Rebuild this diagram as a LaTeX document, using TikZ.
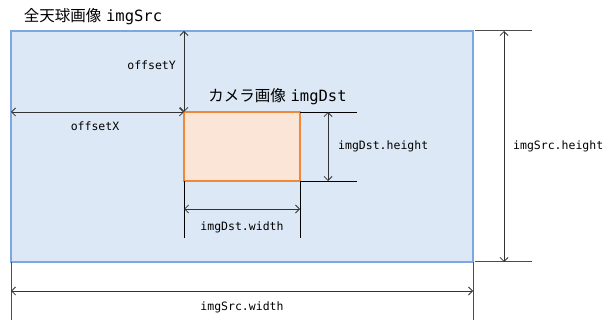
\documentclass[tikz,border=0pt]{standalone}
\usepackage{fontspec}
\setmonofont{DejaVu Sans Mono}
\newfontfamily\jpfont{Noto Sans CJK JP}
\usetikzlibrary{arrows.meta}
\definecolor{srcfill}{HTML}{DCE8F5}
\definecolor{srcline}{HTML}{7EA6E0}
\definecolor{dstfill}{HTML}{FBE5D6}
\definecolor{dstline}{HTML}{F0883A}

\begin{document}
\begin{tikzpicture}[x=1pt,y=-1pt,
	dimarrow/.style={draw=black!80,line width=0.8pt,{Straight Barb[length=4pt,width=8pt]}-{Straight Barb[length=4pt,width=8pt]}},
	extline/.style={draw=black!70,line width=1pt},
	innerext/.style={draw=black,line width=0.8pt},
	imgbox/.style={line width=1.5pt,inner sep=0pt,outer sep=0pt},
	lbl/.style={font=\ttfamily\fontsize{11.5}{13}\selectfont,inner sep=0pt},
	ttl/.style={font=\fontsize{15.5}{18}\selectfont,inner sep=0pt}]
		\useasboundingbox (0,0) rectangle (605,320);
		\node[imgbox,draw=srcline,fill=srcfill,minimum width=462pt,minimum height=231pt] (src) at (242,146.5) {};
		\node[imgbox,draw=dstline,fill=dstfill,minimum width=116pt,minimum height=69pt] (dst) at (242,146.5) {};
		\node[ttl] (srctitle) at (93,17) {{\jpfont 全天球画像} \texttt{imgSrc}};
		\node[ttl] (dsttitle) at (277.5,97) {{\jpfont カメラ画像} \texttt{imgDst}};
		% offsets
		\coordinate (srctop) at (src.north -| dst.north west);
		\coordinate (srcleft) at (src.west |- dst.north west);
		\draw[dimarrow] (srctop) -- (dst.north west);
		\draw[dimarrow] (srcleft) -- (dst.north west);
		\node[lbl,anchor=east] (offy) at (176,65) {offsetY};
		\node[lbl] (offx) at (95,126) {offsetX};
		% imgDst size
		\coordinate (dstwl) at (184,238);
		\coordinate (dstwr) at (300,238);
		\draw[innerext] (dst.south west) -- (dstwl);
		\draw[innerext] (dst.south east) -- (dstwr);
		\coordinate (dsthu) at (357,112);
		\coordinate (dsthd) at (357,181);
		\draw[innerext] (dst.north east) -- (dsthu);
		\draw[innerext] (dst.south east) -- (dsthd);
		\coordinate (dstwa) at (184,209);
		\coordinate (dstwb) at (300,209);
		\coordinate (dstha) at (328,112);
		\coordinate (dsthb) at (328,181);
		\draw[dimarrow] (dstwa) -- (dstwb);
		\draw[dimarrow] (dstha) -- (dsthb);
		\node[lbl] (dstw) at (242,227) {imgDst.width};
		\node[lbl,anchor=west] (dsth) at (338,146) {imgDst.height};
		% imgSrc size
		\coordinate (srchu) at (532,31);
		\coordinate (srchd) at (532,262);
		\coordinate (srcwl) at (11,320);
		\coordinate (srcwr) at (473,320);
		\draw[extline] ([xshift=2pt]src.north east) -- (srchu);
		\draw[extline] ([xshift=2pt]src.south east) -- (srchd);
		\draw[extline] (src.south west) -- (srcwl);
		\draw[extline] (src.south east) -- (srcwr);
		\coordinate (srcha) at (504,31);
		\coordinate (srchb) at (504,262);
		\coordinate (srcwa) at (11,291);
		\coordinate (srcwb) at (473,291);
		\draw[dimarrow] (srcha) -- (srchb);
		\draw[dimarrow] (srcwa) -- (srcwb);
		\node[lbl] (srcw) at (242,307) {imgSrc.width};
		\node[lbl,anchor=west] (srch) at (513,146) {imgSrc.height};
\end{tikzpicture}
\end{document}
